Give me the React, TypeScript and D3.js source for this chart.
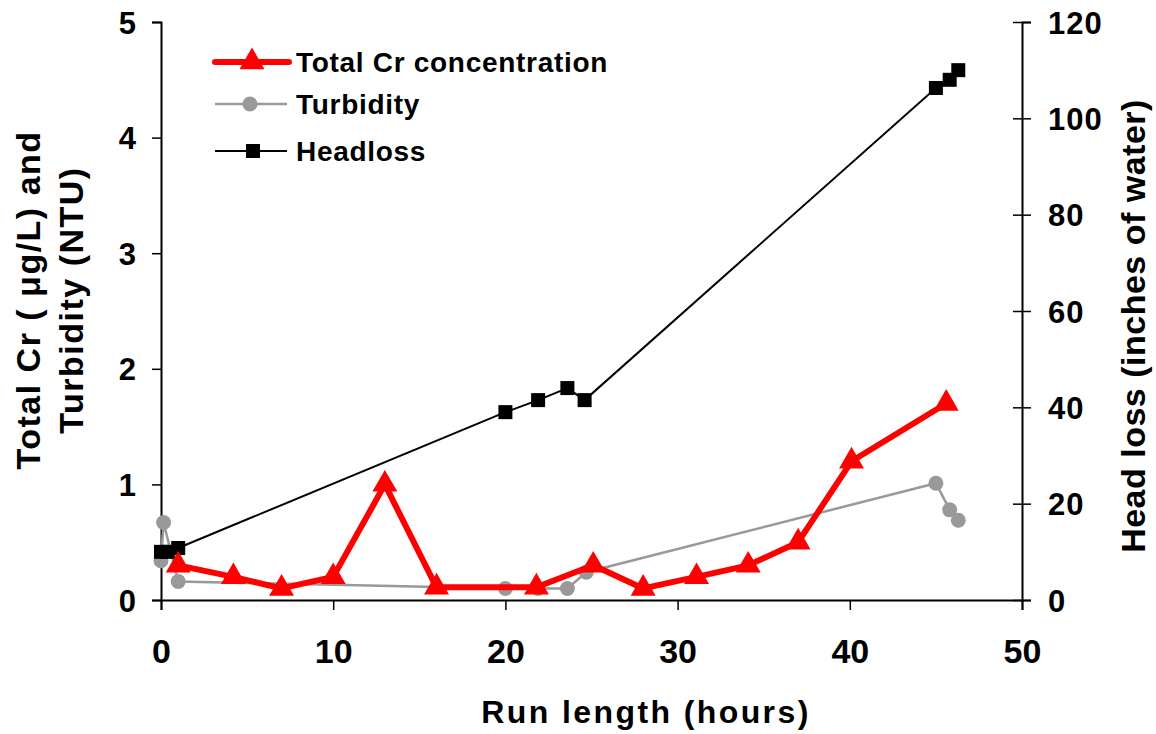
import { useEffect, useRef } from 'react';
import * as d3 from 'd3';

// Total Cr concentration (ug/L)
const crHours = [1, 4.2, 7, 10, 13, 16, 21.8, 25.1, 28, 31.1, 34.1, 37, 40.1, 45.6];
const crValues = [0.3, 0.2, 0.1, 0.2, 1.0, 0.11, 0.11, 0.3, 0.1, 0.2, 0.3, 0.5, 1.2, 1.7];

// Turbidity (NTU)
const turbHours = [0, 0.15, 1, 20, 21.9, 23.6, 24.7, 45, 45.8, 46.3];
const turbValues = [0.34, 0.67, 0.16, 0.1, 0.1, 0.1, 0.24, 1.01, 0.78, 0.69];

// Headloss (inches of water), right axis
const headHours = [0, 0.4, 1, 20, 21.9, 23.6, 24.6, 45, 45.8, 46.3];
const headValues = [10, 10, 10.8, 39, 41.5, 44, 41.5, 106.3, 108, 110];

const xTicks = [0, 10, 20, 30, 40, 50];
const yLeftTicks = [0, 1, 2, 3, 4, 5];
const yRightTicks = [0, 20, 40, 60, 80, 100, 120];

const legendLabels = ['Total Cr concentration', 'Turbidity', 'Headloss'];

const App = () => {
    const svgRef = useRef<SVGSVGElement>(null);

    useEffect(() => {
        const w = 1156;
        const h = 734;
        const margin = {top: 22, left: 161, right: 134, bottom: 134};
        const width = w - margin.left - margin.right;
        const height = h - margin.top - margin.bottom;

        const svg = d3.select(svgRef.current);
        svg.selectAll('*').remove();
        svg.attr('width', w).attr('height', h)
            .style('position', 'absolute').style('left', '0px').style('top', '0px');

        const font = 'Liberation Sans, Arial, sans-serif';
        const x = d3.scaleLinear().domain([0, 50]).range([0, width]);
        const yL = d3.scaleLinear().domain([0, 5]).range([height, 0]);
        const yR = d3.scaleLinear().domain([0, 120]).range([height, 0]);

        const g = svg.append('g').attr('transform', `translate(${margin.left},${margin.top})`);

        // axes
        const xAxis = g.append('g').attr('transform', `translate(0,${height})`)
            .call(d3.axisBottom(x).tickValues(xTicks).tickSize(10).tickFormat(d3.format('d')));
        const yAxisL = g.append('g')
            .call(d3.axisLeft(yL).tickValues(yLeftTicks).tickSize(9).tickFormat(d3.format('d')));
        const yAxisR = g.append('g').attr('transform', `translate(${width},0)`)
            .call(d3.axisRight(yR).tickValues(yRightTicks).tickSize(9).tickFormat(d3.format('d')));
        yAxisR.selectAll('.tick line').attr('x1', -9);

        [xAxis, yAxisL, yAxisR].forEach(a => {
            a.select('.domain').attr('stroke', '#000').attr('stroke-width', 2);
            a.selectAll('.tick line').attr('stroke', '#000').attr('stroke-width', 1.5);
            a.selectAll('.tick text')
                .attr('fill', '#000')
                .style('font-family', font)
                .style('font-weight', 'bold')
                .style('font-size', '31px')
                .style('letter-spacing', '1px');
        });
        xAxis.selectAll('.tick text').attr('y', 63).attr('dy', 0)
            .style('font-size', '34px').style('letter-spacing', '0px');
        yAxisL.selectAll('.tick text').attr('x', -24).attr('dy', '0.36em');
        yAxisR.selectAll('.tick text').attr('x', 26).attr('dy', '0.36em');

        // series
        const turbLine = d3.line<number>().x((d, i) => x(turbHours[i])).y(d => yL(d));
        g.append('path').datum(turbValues).attr('d', turbLine)
            .attr('fill', 'none').attr('stroke', '#999999').attr('stroke-width', 2.5);
        g.selectAll('.turb').data(turbValues).enter().append('circle')
            .attr('cx', (d, i) => x(turbHours[i])).attr('cy', d => yL(d))
            .attr('r', 7.5).attr('fill', '#999999');

        const headLine = d3.line<number>().x((d, i) => x(headHours[i])).y(d => yR(d));
        g.append('path').datum(headValues).attr('d', headLine)
            .attr('fill', 'none').attr('stroke', '#000').attr('stroke-width', 2);
        g.selectAll('.head').data(headValues).enter().append('rect')
            .attr('x', (d, i) => x(headHours[i]) - 7).attr('y', d => yR(d) - 7)
            .attr('width', 14).attr('height', 14).attr('fill', '#000');

        const crLine = d3.line<number>().x((d, i) => x(crHours[i])).y(d => yL(d));
        g.append('path').datum(crValues).attr('d', crLine)
            .attr('fill', 'none').attr('stroke', '#ff0000').attr('stroke-width', 6)
            .attr('stroke-linejoin', 'round');
        const tri = d3.symbol().type(d3.symbolTriangle).size(270);
        g.selectAll('.cr').data(crValues).enter().append('path')
            .attr('d', tri)
            .attr('transform', (d, i) => `translate(${x(crHours[i])},${yL(d)})`)
            .attr('fill', '#ff0000');

        // legend
        const legY = [40, 82, 129];
        const legend = g.append('g').attr('transform', 'translate(52,0)');
        legend.append('line').attr('x1', 2).attr('x2', 76).attr('y1', legY[0]).attr('y2', legY[0])
            .attr('stroke', '#ff0000').attr('stroke-width', 6).attr('stroke-linecap', 'round');
        legend.append('path').attr('d', tri).attr('transform', `translate(39,${legY[0]})`).attr('fill', '#ff0000');
        legend.append('line').attr('x1', 2).attr('x2', 74).attr('y1', legY[1]).attr('y2', legY[1])
            .attr('stroke', '#999999').attr('stroke-width', 2.5);
        legend.append('circle').attr('cx', 37).attr('cy', legY[1]).attr('r', 7.5).attr('fill', '#999999');
        legend.append('line').attr('x1', 2).attr('x2', 74).attr('y1', legY[2]).attr('y2', legY[2])
            .attr('stroke', '#000').attr('stroke-width', 2);
        legend.append('rect').attr('x', 33).attr('y', legY[2] - 7).attr('width', 14).attr('height', 14).attr('fill', '#000');
        legend.selectAll('.legtext').data(legendLabels).enter().append('text')
            .attr('x', 83).attr('y', (d, i) => legY[i]).attr('dy', '0.36em')
            .style('font-family', font).style('font-weight', 'bold').style('font-size', '28px')
            .style('letter-spacing', '0.7px')
            .text(d => d);

        // axis titles
        svg.append('text')
            .attr('x', 646).attr('y', 723)
            .attr('text-anchor', 'middle')
            .style('font-family', font).style('font-weight', 'bold').style('font-size', '32px')
            .style('letter-spacing', '2.4px')
            .text('Run length (hours)');

        const leftTitle = svg.append('text')
            .attr('transform', `translate(8,300) rotate(-90)`)
            .attr('text-anchor', 'middle')
            .style('font-family', font).style('font-weight', 'bold').style('font-size', '34px')
            .style('letter-spacing', '1.5px');
        leftTitle.append('tspan').attr('x', 0).attr('y', 32).text('Total Cr ( \u03BCg/L) and');
        leftTitle.append('tspan').attr('x', 0).attr('y', 75).text('Turbidity (NTU)');

        svg.append('text')
            .attr('transform', `translate(1145,326) rotate(-90)`)
            .attr('text-anchor', 'middle')
            .style('font-family', font).style('font-weight', 'bold').style('font-size', '34px')
            .style('letter-spacing', '0.5px')
            .text('Head loss (inches of water)');
    }, []);

    return (
        <svg ref={svgRef}></svg>
    );
};

export default App;
